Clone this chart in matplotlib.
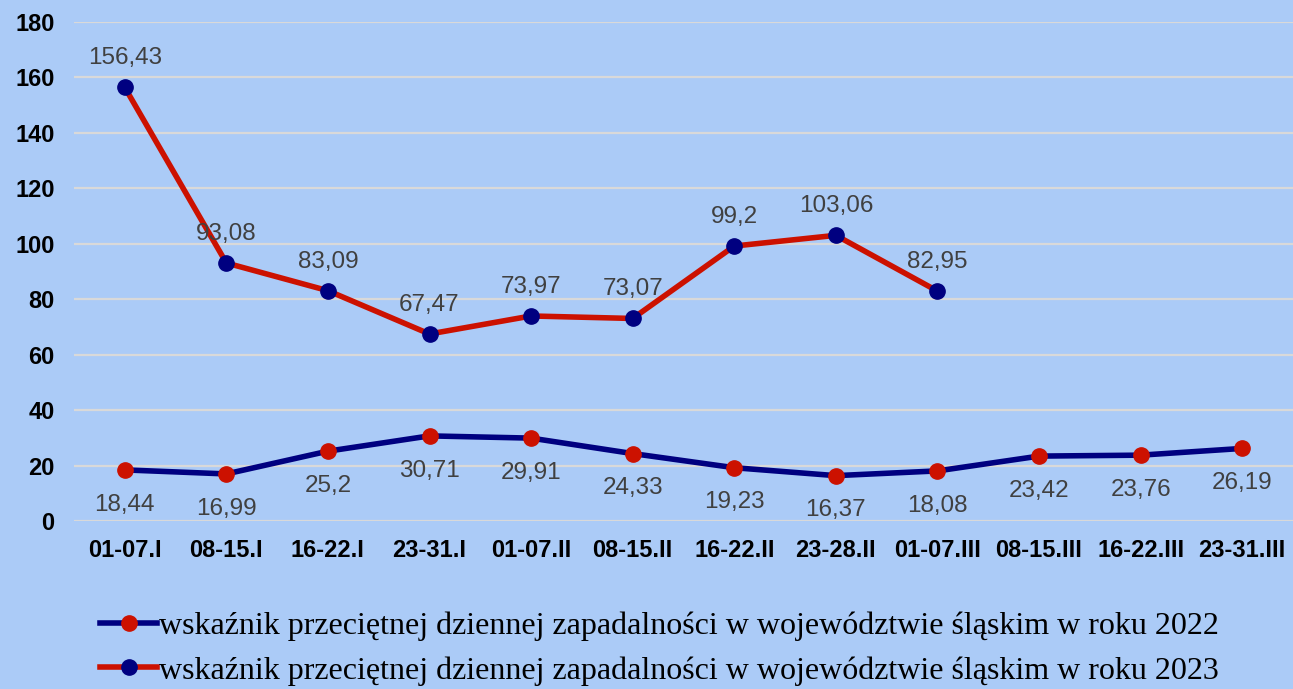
import matplotlib.pyplot as plt

categories = ["01-07.I", "08-15.I", "16-22.I", "23-31.I", "01-07.II", "08-15.II",
              "16-22.II", "23-28.II", "01-07.III", "08-15.III", "16-22.III", "23-31.III"]
values_2022 = [18.44, 16.99, 25.2, 30.71, 29.91, 24.33, 19.23, 16.37, 18.08, 23.42, 23.76, 26.19]
values_2023 = [156.43, 93.08, 83.09, 67.47, 73.97, 73.07, 99.2, 103.06, 82.95]
label_2022 = "wskaźnik przeciętnej dziennej zapadalności w województwie śląskim w roku 2022"
label_2023 = "wskaźnik przeciętnej dziennej zapadalności w województwie śląskim w roku 2023"

bg = "#abcbf7"
red = "#cc1100"
navy = "#000080"

fig = plt.figure(figsize=(12.93, 6.89), dpi=100, facecolor=bg)
ax = fig.add_axes([0.0572, 0.2438, 0.9428, 0.7242], facecolor=bg)

x = list(range(len(categories)))
ax.plot(x, values_2022, color=navy, lw=4, marker="o", ms=11,
        mfc=red, mec=red, label=label_2022, zorder=3)
ax.plot(x[:len(values_2023)], values_2023, color=red, lw=4, marker="o", ms=11,
        mfc=navy, mec=navy, label=label_2023, zorder=3)

lab_font = dict(family="Liberation Sans", fontsize=17.5, color="#404040")
for i, v in enumerate(values_2022):
    ax.annotate(str(v).replace(".", ","), (i, v), xytext=(0, -25),
                textcoords="offset points", ha="center", va="center", **lab_font)
for i, v in enumerate(values_2023):
    ax.annotate(str(v).replace(".", ","), (i, v), xytext=(0, 21),
                textcoords="offset points", ha="center", va="center", **lab_font)

ax.set_xlim(-0.5, len(categories) - 0.5)
ax.set_ylim(0, 180)
ax.set_yticks(range(0, 181, 20))
ax.set_xticks(x)
ax.set_xticklabels(categories)
ax.grid(axis="y", color="#d9d9d9", lw=1.6)
ax.set_axisbelow(True)
for s in ax.spines.values():
    s.set_visible(False)
ax.tick_params(length=0, labelsize=17, pad=14)
ax.tick_params(axis="x", pad=13)
for t in ax.get_xticklabels() + ax.get_yticklabels():
    t.set_fontfamily("Liberation Sans")
    t.set_fontweight("bold")
    t.set_color("black")

fig.legend(loc="upper left", bbox_to_anchor=(0.0773, 0.1118), frameon=False,
           prop=dict(family="Liberation Serif", size=23), handlelength=1.8,
           handletextpad=0.05, labelspacing=0.46, borderaxespad=0, borderpad=0)

fig.savefig("out.png", dpi=100, facecolor=bg)
